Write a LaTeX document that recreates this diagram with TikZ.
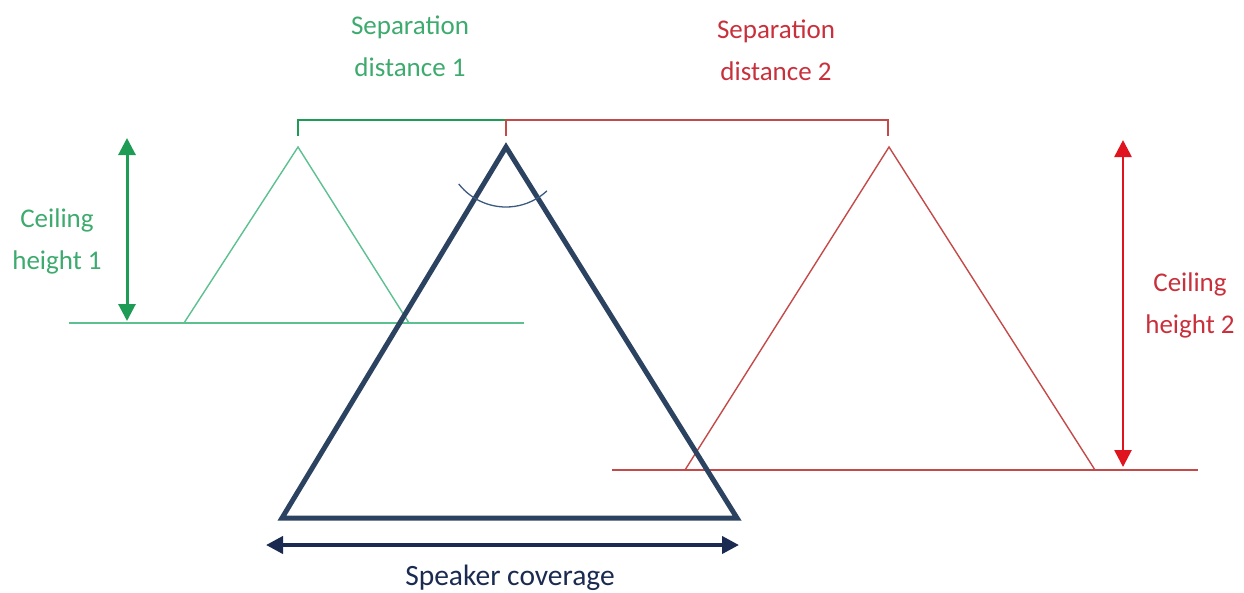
\documentclass[tikz,border=0pt]{standalone}
\usepackage{fontspec}
\setmainfont{Carlito}
\usetikzlibrary{arrows.meta}
\definecolor{gtext}{HTML}{3DAA6E}
\definecolor{gline}{HTML}{5CC090}
\definecolor{garrow}{HTML}{1E9C55}
\definecolor{rtext}{HTML}{C8303C}
\definecolor{rline}{HTML}{C44A4A}
\definecolor{rarrow}{HTML}{E0141E}
\definecolor{navytri}{HTML}{2B4260}
\definecolor{navyarr}{HTML}{1A2A50}
\definecolor{navyarc}{HTML}{3A5A80}
\begin{document}
\begin{tikzpicture}[x=1pt,y=-1pt,
  lbl/.style={align=center,font=\fontsize{27}{42}\selectfont,inner sep=0pt},
  dimarrow/.style={{Triangle[length=17pt,width=17pt]}-{Triangle[length=17pt,width=17pt]}},
  thinside/.style={line width=1.4pt,line join=miter},
  groundline/.style={line width=2.6pt},
  bracketline/.style={line width=2.4pt}]
\useasboundingbox (0,0) rectangle (1244,592);

% ---- coordinates
\coordinate (gA) at (298,147);
\coordinate (gL) at (184,323);
\coordinate (gR) at (409,323);
\coordinate (gG1) at (69,323);
\coordinate (gG2) at (524,323);
\coordinate (gUp) at (127,138);
\coordinate (gDn) at (127,321);

\coordinate (rA) at (889,147);
\coordinate (rL) at (685,470);
\coordinate (rR) at (1095,470);
\coordinate (rG1) at (612,470);
\coordinate (rG2) at (1198,470);
\coordinate (rUp) at (1123,140);
\coordinate (rDn) at (1123,467);

\coordinate (bA) at (506,147);
\coordinate (bL) at (282,518);
\coordinate (bR) at (737,518);
\coordinate (cL) at (266,545);
\coordinate (cR) at (739,545);

\coordinate (t1) at (298,120);
\coordinate (b1) at (298,136);
\coordinate (tm) at (506,120);
\coordinate (bm) at (506,136);
\coordinate (t2) at (888,120);
\coordinate (b2) at (888,136);

% ---- green (ceiling 1)
\draw[gline,groundline] (gG1) -- (gG2);
\draw[gline,thinside] (gL) -- (gA) -- (gR);
\draw[garrow,line width=3pt,dimarrow] (gUp) -- (gDn);
\draw[garrow,bracketline] (b1) -- (t1) -- (tm);
\node[lbl,text=gtext] (sep1) at (410,46) {Separation\\distance 1};
\node[lbl,text=gtext] (ceil1) at (57,241) {Ceiling\\height 1};

% ---- red (ceiling 2)
\draw[rline,groundline] (rG1) -- (rG2);
\draw[rline,thinside] (rL) -- (rA) -- (rR);
\draw[rarrow,line width=2.6pt,dimarrow] (rUp) -- (rDn);
\draw[rline,bracketline] (bm) -- (tm) -- (t2) -- (b2);
\node[lbl,text=rtext] (sep2) at (776,50) {Separation\\distance 2};
\node[lbl,text=rtext] (ceil2) at (1190,305) {Ceiling\\height 2};

% ---- speaker coverage (navy)
\draw[navytri,line width=5pt,line join=miter] (bA) -- (bL) -- (bR) -- cycle;
\draw[navyarc,line width=1.3pt] (bA) ++(142:60) arc[start angle=142,end angle=47,radius=60];
\draw[navyarr,line width=4pt,dimarrow] (cL) -- (cR);
\node[lbl,text=navyarr,font=\fontsize{29.5}{36}\selectfont] (cov) at (510,578) {Speaker coverage};
\end{tikzpicture}
\end{document}
